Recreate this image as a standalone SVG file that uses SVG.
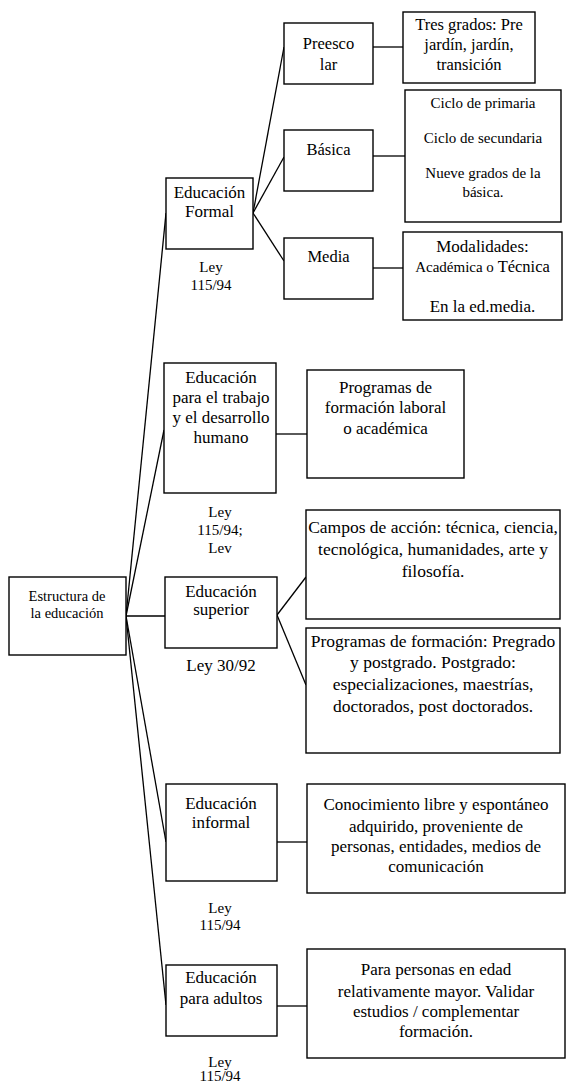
<svg xmlns="http://www.w3.org/2000/svg" width="567" height="1082" viewBox="0 0 567 1082" font-family="'Liberation Serif', 'Times New Roman', serif">
<style>
.b{fill:#fff;stroke:#000;stroke-width:1.4}
.c line{stroke:#000;stroke-width:1.3}
text{font-family:'Liberation Serif', 'Times New Roman', serif;font-size:17px;fill:#000;text-anchor:middle}
.l{font-size:17.5px}
.m{font-size:16.5px}
.s{font-size:15px}
.xs{font-size:14.5px}
</style>
<rect width="567" height="1082" fill="#fff"/>
<g class="c" id="connectors">
<line x1="126" y1="616" x2="166" y2="213"/>
<line x1="126" y1="616" x2="164" y2="430"/>
<line x1="126" y1="616" x2="165" y2="616"/>
<line x1="126" y1="616" x2="166" y2="842"/>
<line x1="126" y1="616" x2="166" y2="1005"/>
<line x1="253" y1="213" x2="284" y2="47"/>
<line x1="253" y1="213" x2="284" y2="157"/>
<line x1="253" y1="213" x2="284" y2="261"/>
<line x1="373" y1="47" x2="403" y2="47"/>
<line x1="373" y1="156" x2="405" y2="156"/>
<line x1="373" y1="268" x2="403" y2="268"/>
<line x1="276" y1="434" x2="307" y2="434"/>
<line x1="277" y1="615" x2="306" y2="577"/>
<line x1="277" y1="615" x2="306" y2="685"/>
<line x1="277" y1="842" x2="307" y2="842"/>
<line x1="277" y1="1006" x2="307" y2="1006"/>
</g>
<g id="estructura"><rect class="b" x="9" y="577" width="117" height="78"/><text class="xs" x="67" y="601">Estructura de</text><text class="xs" x="67" y="618">la educación</text></g>
<g id="formal"><rect class="b" x="166" y="178" width="87" height="71"/><text x="209.5" y="198">Educación</text><text x="209.5" y="217">Formal</text></g>
<g id="ley-formal"><text x="211" y="272" class="s">Ley</text><text x="211" y="290" class="s">115/94</text></g>
<g id="preescolar"><rect class="b" x="284" y="23" width="89" height="61"/><text class="m" x="328.5" y="49">Preesco</text><text class="m" x="328.5" y="70">lar</text></g>
<g id="tresgrados"><rect class="b" x="403" y="12" width="132" height="71"/><text class="m" x="469" y="30">Tres grados: Pre</text><text class="m" x="469" y="50">jardín, jardín,</text><text class="m" x="469" y="70">transición</text></g>
<g id="basica"><rect class="b" x="284" y="130" width="89" height="61"/><text class="m" x="328.5" y="155">Básica</text></g>
<g id="ciclos"><rect class="b" x="405" y="90" width="156" height="132"/><text class="s" x="483" y="108">Ciclo de primaria</text><text class="s" x="483" y="143">Ciclo de secundaria</text><text class="s" x="483" y="178">Nueve grados de la</text><text class="s" x="483" y="197">básica.</text></g>
<g id="media"><rect class="b" x="284" y="238" width="89" height="61"/><text class="m" x="328.5" y="262">Media</text></g>
<g id="modalidades"><rect class="b" x="403" y="232" width="159" height="88"/><text x="482.5" y="252">Modalidades:</text><text x="482.5" y="272"><tspan class="s">Académica o </tspan><tspan class="m">Técnica</tspan></text><text x="482.5" y="312">En la ed.media.</text></g>
<g id="trabajo"><rect class="b" x="164" y="363" width="112" height="130"/><text x="221" y="383">Educación</text><text x="221" y="403">para el trabajo</text><text x="221" y="423">y el desarrollo</text><text x="221" y="443">humano</text></g>
<g id="laboral"><rect class="b" x="307" y="370" width="157" height="108"/><text x="385.5" y="393">Programas de</text><text x="385.5" y="413">formación laboral</text><text x="385.5" y="434">o académica</text></g>
<g id="ley-trabajo"><text x="220" y="517" class="s">Ley</text><text x="220" y="535" class="s">115/94;</text><text x="220" y="553" class="s">Lev</text></g>
<g id="superior"><rect class="b" x="165" y="577" width="112" height="71"/><text x="221" y="597">Educación</text><text x="221" y="615">superior</text></g>
<text id="ley-superior" x="221" y="671">Ley 30/92</text>
<g id="campos"><rect class="b" x="306" y="510" width="254" height="109"/><text class="l" x="433" y="533">Campos de acción: técnica, ciencia,</text><text class="l" x="433" y="555">tecnológica, humanidades, arte y</text><text class="l" x="433" y="577">filosofía.</text></g>
<g id="programas"><rect class="b" x="306" y="628" width="254" height="125"/><text class="l" x="433" y="647">Programas de formación: Pregrado</text><text class="l" x="433" y="668">y postgrado. Postgrado:</text><text class="l" x="433" y="690">especializaciones, maestrías,</text><text class="l" x="433" y="712">doctorados, post doctorados.</text></g>
<g id="informal"><rect class="b" x="166" y="784" width="111" height="97"/><text x="221" y="809">Educación</text><text x="221" y="828">informal</text></g>
<g id="conocimiento"><rect class="b" x="307" y="784" width="258" height="109"/><text x="436" y="810">Conocimiento libre y espontáneo</text><text x="436" y="832">adquirido, proveniente de</text><text x="436" y="852">personas, entidades, medios de</text><text x="436" y="872">comunicación</text></g>
<g id="ley-informal"><text x="220" y="913" class="s">Ley</text><text x="220" y="930" class="s">115/94</text></g>
<g id="adultos"><rect class="b" x="166" y="965" width="111" height="71"/><text x="221" y="983">Educación</text><text x="221" y="1004">para adultos</text></g>
<g id="personas"><rect class="b" x="307" y="949" width="258" height="109"/><text x="436" y="975">Para personas en edad</text><text x="436" y="997">relativamente mayor. Validar</text><text x="436" y="1017">estudios / complementar</text><text x="436" y="1037">formación.</text></g>
<g id="ley-adultos"><text x="220" y="1067" class="s">Ley</text><text x="220" y="1081" class="s">115/94</text></g>
</svg>
